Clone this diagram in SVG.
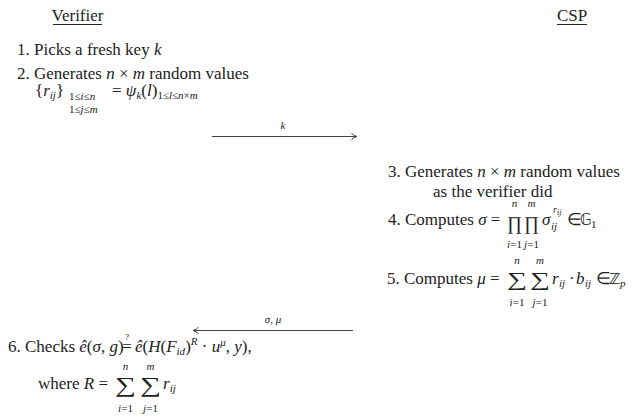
<svg xmlns="http://www.w3.org/2000/svg" width="640" height="419" viewBox="0 0 640 419">
<style>
text{fill:#222;font-size:17px;font-family:'Liberation Serif','Times New Roman',serif}
.i{font-style:italic}
.s{font-size:11px}
.ss{font-size:10px}
.q{font-size:9px}
.prod{font-size:19px}
.sum{font-size:20px}
.sum2{font-size:21px}
.bb{font-family:'DejaVu Sans',sans-serif;font-size:15px}
.ul{stroke:#222;stroke-width:1}
.conn{stroke:#444;stroke-width:1.2;fill:none}
.mid{text-anchor:middle}
</style>
<defs>
<marker id="ah" viewBox="0 0 10 10" refX="9" refY="5" markerWidth="8" markerHeight="8" orient="auto" markerUnits="userSpaceOnUse">
<path d="M2,1 Q5,4 9,5 Q5,6 2,9" fill="none" stroke="#444" stroke-width="1.2"/>
</marker>
</defs>
<rect width="640" height="419" fill="#fff"/>

<g id="verifier-header">
<text x="77.5" y="21" class="mid">Verifier</text>
<line class="ul" x1="53" y1="24.5" x2="102" y2="24.5"/>
</g>
<g id="csp-header">
<text x="572" y="21" class="mid">CSP</text>
<line class="ul" x1="557" y1="24.5" x2="587" y2="24.5"/>
</g>

<g id="step1">
<text x="17" y="55">1.  Picks a fresh key <tspan class="i">k</tspan></text>
</g>

<g id="step2">
<text x="17" y="79">2.  Generates <tspan class="i">n</tspan> × <tspan class="i">m</tspan> random values</text>
<text x="35" y="96">{<tspan class="i">r</tspan><tspan class="s i" dy="3">ij</tspan><tspan dy="-3">}</tspan></text>
<text x="69" y="100" class="s">1≤<tspan class="i">i</tspan>≤<tspan class="i">n</tspan></text>
<text x="69" y="113" class="s">1≤<tspan class="i">j</tspan>≤<tspan class="i">m</tspan></text>
<text x="112" y="96">= <tspan class="i">ψ</tspan><tspan class="s i" dy="3">k</tspan><tspan dy="-3">(</tspan><tspan class="i">l</tspan>)<tspan class="s" dy="3">1≤<tspan class="i">l</tspan>≤<tspan class="i">n</tspan>×<tspan class="i">m</tspan></tspan></text>
</g>

<g id="step3">
<text x="388" y="177">3. Generates <tspan class="i">n</tspan> × <tspan class="i">m</tspan> random values</text>
<text x="433" y="197">as the verifier did</text>
</g>

<g id="step4">
<text x="388" y="225">4. Computes <tspan class="i">σ</tspan> =</text>
<text x="507" y="230" class="prod" textLength="15" lengthAdjust="spacingAndGlyphs">∏</text>
<text x="524" y="230" class="prod" textLength="15" lengthAdjust="spacingAndGlyphs">∏</text>
<text x="514.5" y="207" class="s i mid">n</text>
<text x="531.5" y="207" class="s i mid">m</text>
<text x="514.5" y="248" class="s mid"><tspan class="i">i</tspan>=1</text>
<text x="531.5" y="248" class="s mid"><tspan class="i">j</tspan>=1</text>
<text x="542" y="225" class="i">σ</text>
<text x="551" y="230" class="s i">ij</text>
<text x="553" y="213" class="ss i">r<tspan font-size="8" dy="2">ij</tspan></text>
<text x="567" y="225">∈</text>
<text x="580" y="225" class="bb">𝔾</text>
<text x="591" y="228" class="s">1</text>
</g>

<g id="step5">
<text x="387" y="284">5. Computes <tspan class="i">μ</tspan> =</text>
<text x="507" y="286" class="sum" textLength="20" lengthAdjust="spacingAndGlyphs">∑</text>
<text x="530" y="286" class="sum" textLength="20" lengthAdjust="spacingAndGlyphs">∑</text>
<text x="517" y="264" class="s i mid">n</text>
<text x="540" y="264" class="s i mid">m</text>
<text x="517" y="306" class="s mid"><tspan class="i">i</tspan>=1</text>
<text x="540" y="306" class="s mid"><tspan class="i">j</tspan>=1</text>
<text x="552" y="284" class="i">r</text>
<text x="559" y="287" class="s i">ij</text>
<text x="569" y="284">·</text>
<text x="576" y="284" class="i">b</text>
<text x="585" y="287" class="s i">ij</text>
<text x="596" y="284">∈</text>
<text x="609" y="284" class="bb">ℤ</text>
<text x="620" y="287" class="s i">p</text>
</g>

<g id="step6">
<text x="8" y="352">6. Checks <tspan class="i">ê</tspan>(<tspan class="i">σ</tspan>, <tspan class="i">g</tspan>)</text>
<text x="127" y="352" class="mid">=</text>
<text x="127" y="340" class="q mid">?</text>
<text x="135" y="352"><tspan class="i">ê</tspan>(<tspan class="i">H</tspan>(<tspan class="i">F</tspan><tspan class="s i" dy="3">id</tspan><tspan dy="-3">)</tspan><tspan class="s i" dy="-7">R</tspan><tspan dy="7"> · </tspan><tspan class="i">u</tspan><tspan class="s i" dy="-6">μ</tspan><tspan dy="6">, </tspan><tspan class="i">y</tspan>),</text>
<text x="38" y="389">where <tspan class="i">R</tspan> =</text>
<text x="115" y="392" class="sum2" textLength="21" lengthAdjust="spacingAndGlyphs">∑</text>
<text x="140" y="392" class="sum2" textLength="21" lengthAdjust="spacingAndGlyphs">∑</text>
<text x="125.5" y="370" class="s i mid">n</text>
<text x="150.5" y="370" class="s i mid">m</text>
<text x="125.5" y="412" class="s mid"><tspan class="i">i</tspan>=1</text>
<text x="150.5" y="412" class="s mid"><tspan class="i">j</tspan>=1</text>
<text x="163" y="389"><tspan class="i">r</tspan><tspan class="s i" dy="3">ij</tspan></text>
</g>

<g id="connectors">
<g id="msg-k">
<line class="conn" x1="212" y1="136.5" x2="357" y2="136.5" marker-end="url(#ah)"/>
<text x="283" y="129" class="s i mid">k</text>
</g>
<g id="msg-sigma-mu">
<line class="conn" x1="353" y1="330.5" x2="193" y2="330.5" marker-end="url(#ah)"/>
<text x="273" y="323" class="s mid"><tspan class="i">σ</tspan>, <tspan class="i">μ</tspan></text>
</g>
</g>
</svg>
